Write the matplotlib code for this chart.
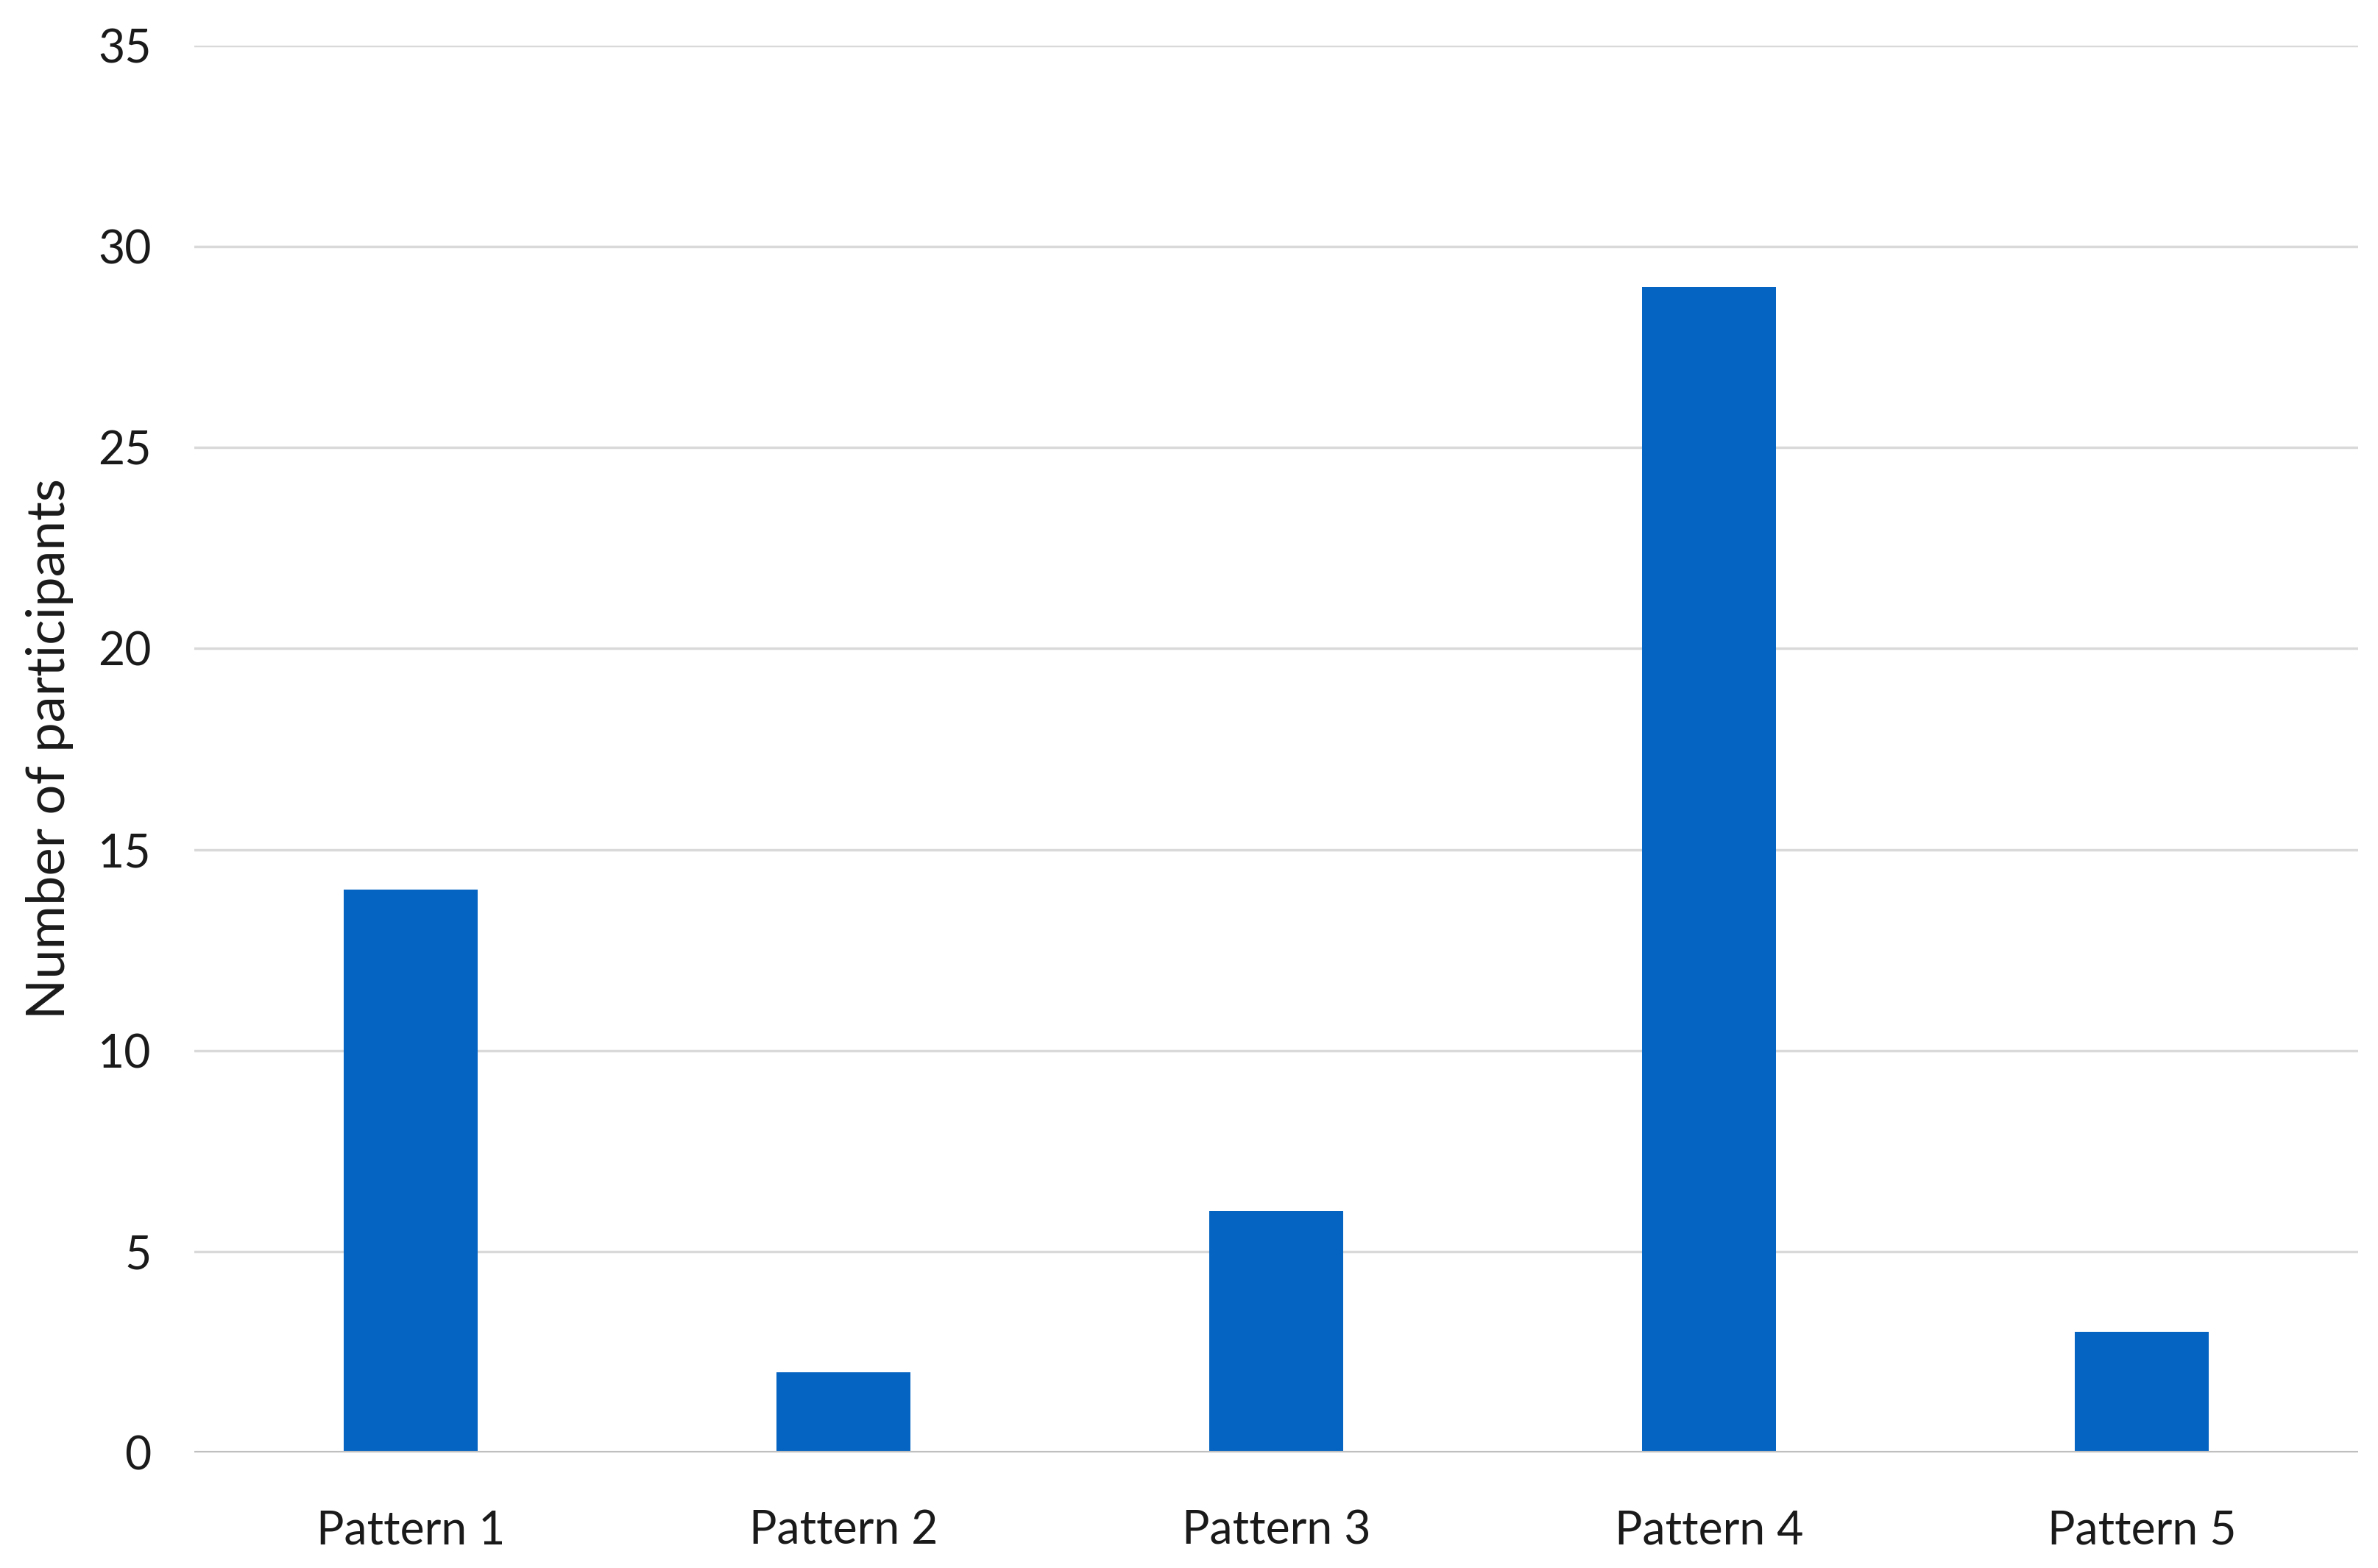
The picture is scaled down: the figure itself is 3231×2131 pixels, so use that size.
import matplotlib
matplotlib.use("Agg")
import matplotlib.pyplot as plt
import numpy as np

categories = ["Pattern 1", "Pattern 2", "Pattern 3", "Pattern 4", "Pattern 5"]
participants = [14, 2, 6, 29, 3]
yticks = [0, 5, 10, 15, 20, 25, 30, 35]

plt.rcParams['font.family'] = ['Lato', 'DejaVu Sans']

fig = plt.figure(figsize=(32.31, 21.31), dpi=100)
ax = fig.add_axes([0.0817, 0.0737, 0.9099, 0.8972])

x = np.arange(len(categories))
ax.bar(x, participants, width=0.31, color='#0563C1', zorder=3)

ax.set_xlim(-0.5, len(categories) - 0.5)
ax.set_ylim(0, 35)
ax.set_yticks(yticks)
ax.set_xticks(x)
ax.set_xticklabels(categories)

ax.yaxis.grid(True, color='#D9D9D9', linewidth=2.5, zorder=0)
ax.axhline(0, color='#BFBFBF', linewidth=3, zorder=4)
for s in ax.spines.values():
    s.set_visible(False)
ax.tick_params(axis='both', length=0, labelsize=45, colors='#1a1a1a')
ax.tick_params(axis='y', pad=42)
ax.tick_params(axis='x', pad=56)
ax.set_ylabel('Number of participants', fontsize=52, color='#1a1a1a', labelpad=24)

fig.savefig('out.png', dpi=100)
